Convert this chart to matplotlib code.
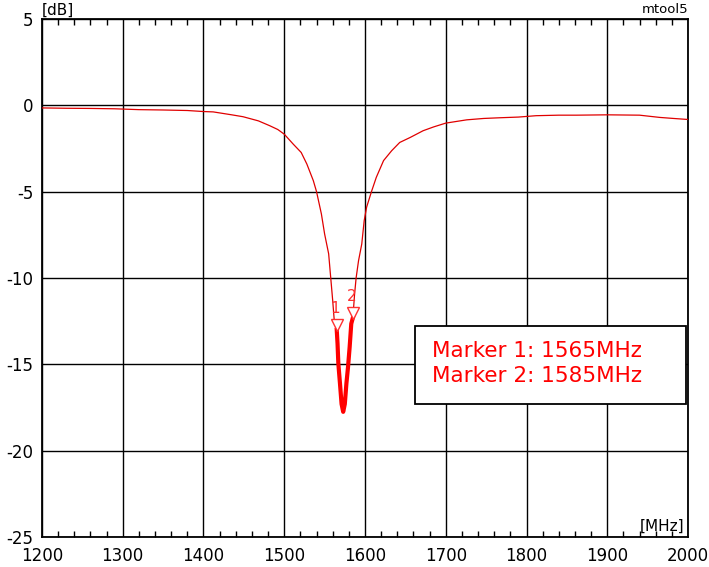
import numpy as np
import matplotlib
matplotlib.use("Agg")
import matplotlib.pyplot as plt
from matplotlib.patches import Rectangle
from matplotlib.ticker import MultipleLocator
import matplotlib.transforms as mtransforms

# measured trace (MHz, dB)
freq_mhz = [1200, 1230, 1260, 1290, 1320, 1350, 1380, 1400, 1412, 1435, 1449,
            1468, 1482, 1492, 1500, 1511, 1521, 1528, 1536, 1540, 1546, 1550,
            1555, 1557.5, 1560, 1562, 1565, 1566, 1567, 1569, 1571, 1573,
            1575, 1577, 1579, 1581, 1583, 1585, 1587, 1589, 1592, 1596, 1599,
            1602, 1608, 1614, 1623, 1633, 1643, 1656, 1672, 1685, 1700, 1726,
            1747, 1767, 1790, 1812, 1840, 1862, 1900, 1940, 1965, 1982, 2000]
gain_db = [-0.15, -0.17, -0.18, -0.2, -0.25, -0.27, -0.3, -0.36, -0.38, -0.55,
           -0.66, -0.9, -1.18, -1.4, -1.67, -2.24, -2.73, -3.4, -4.36, -5.0,
           -6.29, -7.45, -8.6, -9.95, -11.3, -12.5, -13.0, -13.8, -14.96,
           -16.1, -17.3, -17.75, -17.3, -16.1, -15.15, -14.0, -12.65, -12.3,
           -11.0, -10.0, -9.0, -8.03, -6.68, -5.9, -5.0, -4.17, -3.2, -2.63,
           -2.15, -1.86, -1.47, -1.25, -1.03, -0.84, -0.76, -0.72, -0.68,
           -0.6, -0.57, -0.57, -0.55, -0.57, -0.7, -0.76, -0.82]

marker_freqs = [1565, 1585]
marker_names = ["1", "2"]

x_ticks = [1200, 1300, 1400, 1500, 1600, 1700, 1800, 1900, 2000]
y_ticks = [5, 0, -5, -10, -15, -20, -25]

plt.rcParams["font.family"] = ["DejaVu Sans"]
plt.rcParams["axes.unicode_minus"] = False

freq = np.array(freq_mhz)
gain = np.array(gain_db)

fig = plt.figure(figsize=(7.09, 5.67), dpi=100)
ax = fig.add_axes([0.0592, 0.0529, 0.9112, 0.9136])

ax.plot(freq, gain, color="#e00000", lw=0.9, zorder=3)
band = (freq >= marker_freqs[0]) & (freq <= marker_freqs[1])
ax.plot(freq[band], gain[band], color="#ff0000", lw=3.0, zorder=4,
        solid_joinstyle="round")

# markers: triangle tip sits on the trace
lift = mtransforms.offset_copy(ax.transData, fig=fig, x=0, y=5, units="dots")
for f, name in zip(marker_freqs, marker_names):
    g = np.interp(f, freq, gain)
    ax.plot([f], [g], marker="v", ms=8, mfc="white", mec="#ff3030", mew=1.0,
            transform=lift, zorder=5, ls="none")
    ax.annotate(name, (f, g), xytext=(-1, 10), textcoords="offset points",
                ha="center", va="bottom", color="#ff3030", fontsize=11,
                zorder=6)

ax.set_xlim(1200, 2000)
ax.set_ylim(-25, 5)
ax.set_xticks(x_ticks)
ax.set_yticks(y_ticks)
ax.xaxis.set_minor_locator(MultipleLocator(20))
ax.tick_params(axis="x", which="major", length=0, labelsize=12, pad=7)
ax.tick_params(axis="y", which="major", length=0, labelsize=12, pad=6)
ax.tick_params(axis="x", which="minor", direction="in", length=4, width=1,
               top=True, bottom=True)
ax.grid(True, which="major", color="black", lw=1.0)
ax.set_axisbelow(True)
for s in ax.spines.values():
    s.set_linewidth(1.3)

ax.text(0.0, 1.003, "[dB]", transform=ax.transAxes, ha="left", va="bottom",
        fontsize=11)
ax.text(1.0, 1.005, "mtool5", transform=ax.transAxes, ha="right",
        va="bottom", fontsize=9.5)
ax.text(0.995, 0.006, "[MHz]", transform=ax.transAxes, ha="right",
        va="bottom", fontsize=11, zorder=7)

box = Rectangle((1662, -17.3), 336, 4.5, facecolor="white",
                edgecolor="black", lw=1.3, zorder=6)
ax.add_patch(box)
for i, (f, name) in enumerate(zip(marker_freqs, marker_names)):
    ax.text(1683, -14.25 - 1.45 * i, f"Marker {name}: {f}MHz",
            color="#ff0000", fontsize=15.5, va="center", ha="left", zorder=7)

fig.savefig("out.png", dpi=100)
